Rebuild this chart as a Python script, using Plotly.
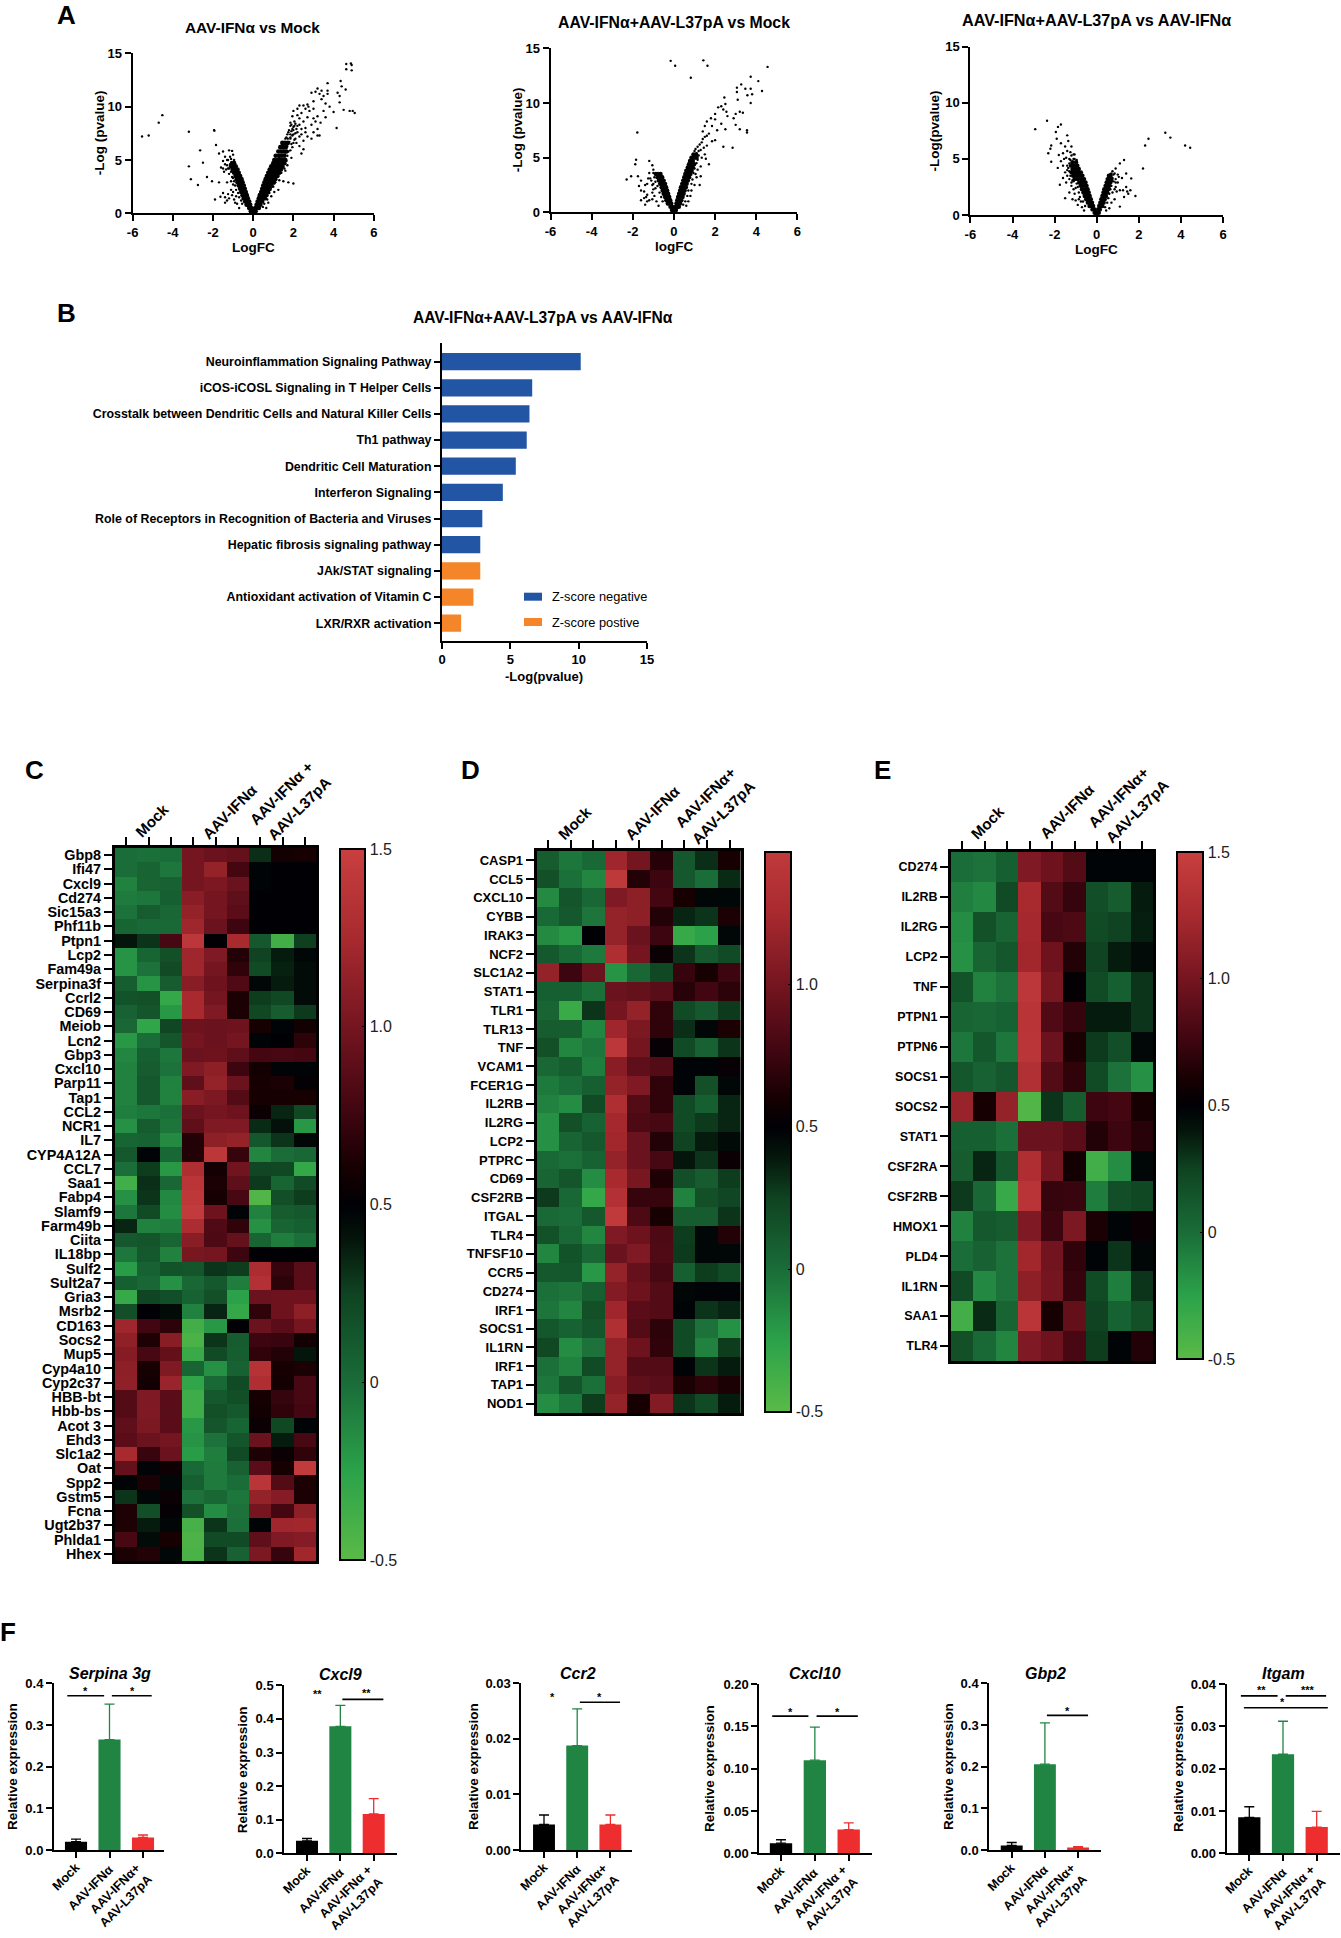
import plotly.graph_objects as go

W, H = 1341, 1938
FONT = "Liberation Sans"

# ---- A: volcano plots (logFC, -log p)
a1_core = [(.05,.2),(.12,.2),(.1,.5),(.2,.5),(.28,.5),(.17,.8),(.27,.8),(.36,.8),(.22,1.1),(.32,1.1),(.44,1.1),
           (.28,1.4),(.38,1.4),(.5,1.4),(.58,1.4),(.33,1.7),(.44,1.7),(.55,1.7),(.66,1.7),(.4,2),(.5,2),(.62,2),(.74,2),
           (.45,2.3),(.56,2.3),(.68,2.3),(.82,2.3),(.5,2.6),(.62,2.6),(.75,2.6),(.9,2.6),(.56,2.9),(.68,2.9),(.8,2.9),(.94,2.9),(1.02,2.9),
           (.62,3.2),(.74,3.2),(.87,3.2),(1,3.2),(1.1,3.2),(.68,3.5),(.8,3.5),(.95,3.5),(1.08,3.5),(1.2,3.5),
           (.75,3.8),(.88,3.8),(1.02,3.8),(1.15,3.8),(1.3,3.8),(.82,4.1),(.95,4.1),(1.08,4.1),(1.22,4.1),(1.38,4.1),
           (.9,4.4),(1.02,4.4),(1.15,4.4),(1.3,4.4),(1.45,4.4),(1,4.7),(1.1,4.7),(1.25,4.7),(1.4,4.7),(1.55,4.7),
           (1.05,5),(1.2,5),(1.32,5),(1.45,5),(1.6,5),(1.12,5.4),(1.28,5.4),(1.42,5.4),(1.55,5.4),(1.25,5.8),(1.38,5.8),(1.5,5.8),(1.65,5.8),
           (1.35,6.2),(1.48,6.2),(1.62,6.2),(1.45,6.6),(1.58,6.6),(1.72,6.6),
           (-.05,.2),(-.12,.2),(-.1,.5),(-.2,.5),(-.15,.8),(-.25,.8),(-.33,.8),(-.2,1.1),(-.3,1.1),(-.4,1.1),(-.27,1.4),(-.37,1.4),(-.47,1.4),
           (-.32,1.7),(-.42,1.7),(-.53,1.7),(-.37,2),(-.47,2),(-.6,2),(-.42,2.3),(-.53,2.3),(-.65,2.3),(-.47,2.6),(-.6,2.6),(-.72,2.6),
           (-.53,2.9),(-.65,2.9),(-.78,2.9),(-.58,3.2),(-.7,3.2),(-.82,3.2),(-.65,3.5),(-.77,3.5),(-.88,3.5),(-.72,3.8),(-.82,3.8),(-.95,3.8),
           (-.78,4.1),(-.9,4.1),(-1.02,4.1),(-.87,4.4),(-.97,4.4),(-1.1,4.4),(-.95,4.7),(-1.05,4.7)]
a1_dots = [(4.63,14),(4.86,14.05),(4.63,13.5),(4.9,13.4),(4.9,13.9),(4.35,12.4),(3.7,12.2),(4.4,11.9),(4.2,11.3),(4.6,11.6),(4.3,11),
           (3.2,11.7),(3.4,11.5),(3.7,11.5),(3.7,11.2),(3.1,11.4),(3.3,11.2),(3.5,11),(2.9,11.3),(3,10.5),(3.4,10.7),(4.3,10.4),(3.6,10.3),
           (3.8,10),(4,9.5),(4.5,9.7),(4.8,9.6),(4.95,9.6),(5.05,9.4),(2.5,10.1),(2.7,10.2),(2.3,10.1),(2.2,9.8),(2.6,9.8),(2,9.6),(2.4,9.4),
           (2.8,9.6),(3,9.8),(3.2,9.1),(3.6,9),(3.35,8.5),(3,8.9),(3.1,8.6),(2.7,9),(2.3,8.9),(2.1,8.4),(2.5,8.6),(2.9,8.3),(3.2,7.9),(4.15,8),
           (3,7.6),(3.2,7.3),(3.3,7.3),(2.6,7.6),(2.4,7.9),(2.7,7.2),(2.9,7),(2.5,6.8),(2.3,7.2),(2.3,6.3),(2.5,6),(2.4,5.6),(2,6.6),(2.2,7.6),
           (2.1,7),(1.9,8.3),(1.85,7),(1.95,6.2),(1.75,5.8),(1.9,5.2),(1.7,4.5),(1.6,4),(1.4,3.8),(1.5,3),(1.75,2.9),(2,2.8),(1.3,3.1),(1.1,2.9),
           (1.25,2.2),(1.05,2),(.9,1.6),(.75,1),(.65,.5),(.95,2.5),(2.75,10),(3.5,9.6),(2.2,8.2),(2.4,7.4),(2.6,8),(2.15,6.6),(2,7.8),
           (1.6,7),(1.72,7),(1.85,7.1),(1.7,7.4),(1.85,7.4),(2,7.4),(1.78,7.8),(1.95,7.9),(1.85,8.2),(2.05,8.2),
           (1.3,5.2),(1.55,6.1),(1.7,6.3),(1.8,6.7),(1.9,6.5),(2.05,6.9),(1.65,7.1),(1.75,7.6),(1.95,7.3),(2.1,7.5),(2.15,7.9),(1.9,7.7),(2,8.1),
           (2.3,8.3),(1.85,8.5),(2.05,8.6),(2.2,9.2),(1.95,9.1),(1.6,5.7),(1.7,5.4),(1.85,5.9),(1.5,4.8),(1.6,5),(1.65,4.9),(1.45,4.3),(1.55,4.2),
           (1.35,4.6),(1.25,3.5),(1.2,3.9),(1.15,3.4),(1.3,4),(1,2.5),(1.05,2.8),(.85,2.2),(.8,1.9),(.7,1.3),(.55,.9),(.6,1.5),(.48,.6),
           (-5.53,7.2),(-5.2,7.3),(-4.7,8.5),(-4.52,9.2),(-3.2,7.65),(-1.95,7.8),(-1.93,7.75),(-2.64,5.9),(-1.85,6.4),(-3.2,4.4),(-3.1,3.2),
           (-2.75,2.65),(-2.5,4.75),(-2.3,3.4),(-2.05,3),(-1.9,1.3),(-1.7,2.9),(-1.63,1.55),(-1.7,5.6),(-1.5,5.8),(-1.4,5.3),(-1.2,5.9),
           (-1.05,5.85),(-1,5.5),(-1.3,5),(-1.5,4.9),(-1.15,4.6),(-1.5,4.2),(-1.6,4.3),(-1.35,4.1),(-1.25,4.2),(-1.1,5.1),(-1.45,3.9),(-1.2,3.7),
           (-1.05,3.4),(-1.1,3),(-1.3,2.9),(-1,2.7),(-1.5,1.9),(-1.4,1.5),(-1.3,1.2),(-1.4,1),(-1.25,1.8),(-1.1,2.2),(-1.05,1.7),(-1.2,1.4),
           (-.95,1.3),(-1,2),(-.9,1),(-.8,.9),(-.7,.5),(-.85,1.6),(-.55,.9),(-.6,1.2),(-.7,1.5),(-.75,1.9),(-.85,2.2),(-.9,2.6),(-.95,3),(-1,3.3),
           (-1.1,3.9),(-1.2,4.2),(-1.3,4.5),(-.95,5),(-1.15,5.3),(-1.25,5),(-1.4,4.6)]

a2_core = [(.03,.2),(.1,.2),(.08,.5),(.16,.5),(.24,.5),(.12,.8),(.2,.8),(.3,.8),(.16,1.1),(.25,1.1),(.36,1.1),(.2,1.4),(.3,1.4),(.42,1.4),
           (.25,1.7),(.35,1.7),(.47,1.7),(.3,2),(.4,2),(.52,2),(.34,2.3),(.45,2.3),(.58,2.3),(.4,2.6),(.5,2.6),(.62,2.6),(.45,2.9),(.56,2.9),(.68,2.9),
           (.5,3.2),(.62,3.2),(.74,3.2),(.55,3.5),(.67,3.5),(.8,3.5),(.6,3.8),(.72,3.8),(.86,3.8),(.67,4.1),(.78,4.1),(.92,4.1),(.73,4.4),(.85,4.4),(.98,4.4),
           (.78,4.7),(.92,4.7),(.85,5),(1,5),(1.1,5),(.95,5.3),(1.08,5.3),
           (-.04,.2),(-.1,.2),(-.08,.5),(-.17,.5),(-.13,.8),(-.22,.8),(-.3,.8),(-.18,1.1),(-.28,1.1),(-.37,1.1),(-.23,1.4),(-.33,1.4),(-.43,1.4),
           (-.28,1.7),(-.38,1.7),(-.5,1.7),(-.33,2),(-.43,2),(-.55,2),(-.38,2.3),(-.5,2.3),(-.6,2.3),(-.43,2.6),(-.55,2.6),(-.67,2.6),
           (-.5,2.9),(-.62,2.9),(-.73,2.9),(-.57,3.2),(-.68,3.2),(-.8,3.2),(-.65,3.5),(-.77,3.5),(-.88,3.5)]
a2_dots = [(-.16,13.85),(.06,13.4),(.82,12.3),(1.43,13.9),(1.63,13.4),(4.55,13.3),(3.73,12.4),(4.1,12),(3.27,11.7),(3.06,11.4),(3.06,11),
           (3.47,11.3),(3.73,11.3),(4.28,11.1),(3.57,10.7),(3.8,10.8),(3.1,10.3),(3.73,10),(2.45,10.5),(2.3,9.7),(2.5,9.9),(2.4,9.4),(2.15,9.6),
           (2.55,9.2),(3.2,9.2),(3.35,9.1),(3,9),(2.9,8.6),(2.6,8.8),(2,9),(2,8.5),(1.8,8.6),(1.6,8.3),(1.85,7.9),(2.3,8.1),(1.5,7.9),(1.4,7.4),
           (1.7,7.2),(2.1,7.5),(2.5,7.6),(3,8),(3.2,7.6),(3.55,7.5),(3.55,7.3),(1.85,6.5),(2,6.6),(2.4,6),(2.85,5.9),(1.6,6.1),(1.45,5.9),(1.25,6.2),
           (1.2,5.6),(1.5,5.3),(1.55,4.9),(1.7,4.4),(1.3,4.2),(1.15,3.9),(1.3,3.3),(1.1,3.2),(1.25,2.5),(1,2.5),(.85,2),(.8,1.5),(.7,1),(.6,.6),
           (1,5.6),(1.1,5.4),(1.2,5.2),(1.05,5.8),(1.15,6),(1.3,5.7),(1.35,6.4),(1.4,6.7),(1.5,6.9),(1.6,7),(1.35,5),(.9,3),(.95,3.6),(1,4),(1.1,4.5),
           (1.05,3.5),(1.15,4.8),(.85,2.6),(.7,2),(.65,1.5),(.55,1),(.45,.7),
           (-1.78,7.3),(-1.84,4.8),(-2.3,3),(-2.08,3.3),(-1.88,4.4),(-1.75,3.3),(-1.7,2.4),(-1.6,2),(-1.45,1.9),(-1.4,2.5),(-1.25,3.1),(-1.2,4.7),
           (-1.05,4.3),(-1,3.9),(-1.2,3.6),(-1.1,2.9),(-1.3,1.6),(-1.2,1.1),(-1.3,1),(-1.4,.7),(-1.05,1.2),(-1,2.1),(-.95,1.5),(-.85,1),(-.75,.6),
           (-1.05,1.8),(-1,2.6),(-1.6,2.9),(-.55,1),(-.62,1.4),(-.7,1.8),(-.8,2.4),(-.9,2.8),(-.95,3.2),(-1,3.6),(-1.15,3.1),(-1.05,2.5),(-.9,2.2),
           (-1.3,2.6),(-1.45,1.3),(-1.6,1.1),(-1.35,1.4)]

a3_core = [(-.04,.2),(-.1,.2),(-.1,.5),(-.2,.5),(-.17,.8),(-.27,.8),(-.34,.8),(-.22,1.1),(-.32,1.1),(-.42,1.1),(-.28,1.4),(-.38,1.4),(-.5,1.4),
           (-.33,1.7),(-.45,1.7),(-.57,1.7),(-.38,2),(-.5,2),(-.63,2),(-.43,2.3),(-.55,2.3),(-.7,2.3),(-.48,2.6),(-.62,2.6),(-.76,2.6),(-.53,2.9),(-.68,2.9),(-.83,2.9),
           (-.6,3.2),(-.74,3.2),(-.9,3.2),(-1.05,3.2),(-.68,3.5),(-.82,3.5),(-.98,3.5),(-1.12,3.5),(-.75,3.8),(-.9,3.8),(-1.05,3.8),(-1.2,3.8),
           (-.85,4.1),(-1,4.1),(-1.15,4.1),(-.92,4.4),(-1.08,4.4),(-1.22,4.4),(-.98,4.7),(-1.15,4.7),
           (.03,.2),(.1,.2),(.07,.5),(.15,.5),(.12,.8),(.2,.8),(.27,.8),(.17,1.1),(.25,1.1),(.33,1.1),(.22,1.4),(.3,1.4),(.38,1.4),(.27,1.7),(.35,1.7),(.44,1.7),
           (.32,2),(.4,2),(.5,2),(.36,2.3),(.45,2.3),(.55,2.3),(.42,2.6),(.5,2.6),(.6,2.6),(.47,2.9),(.55,2.9),(.65,2.9),(.52,3.2),(.6,3.2),(.7,3.2),(.58,3.5),(.66,3.5)]
a3_dots = [(-2.92,7.65),(-2.36,8.4),(-1.7,8.07),(-1.84,7.85),(-1.94,7.4),(-1.9,6.8),(-1.4,7.1),(-2.16,6.2),(-2.2,5.9),(-2.3,5.5),(-2.16,4.75),(-1.7,6.4),
           (-1.5,6.1),(-1.2,6.1),(-1.8,5.35),(-1.6,5.5),(-1.35,6.6),(-1.25,5.6),(-1.4,5.7),(-1.1,5.4),(-1.55,5),(-1.7,4.8),(-1.45,5.1),(-1.6,4.4),(-1.4,4.4),
           (-1.85,4.2),(-1.3,5),(-1.05,5),(-.95,4.9),(-1.5,3.8),(-1.4,3.5),(-1.3,3.2),(-1.6,3.3),(-1.75,2.7),(-1.45,2.9),(-1.2,2.6),(-1.1,2.3),(-1.05,1.9),
           (-1.3,2),(-1.5,1.5),(-1.15,1.4),(-1,1.3),(-.9,.9),(-.85,1.4),(-.7,.7),(-.6,.4),(-1.1,3),
           (-1.3,4.6),(-1.25,4.9),(-1.35,4.2),(-1.05,5.4),(-1.1,5),(-1.2,5.3),(-1.3,3.9),(-1.25,3.5),(-1.15,3.1),(-.95,2.8),(-1,2.4),(-.85,2),(-.8,1.6),
           (-.65,1.2),(-.55,.8),(-.75,1.2),(-.9,2.5),(-1.2,2.9),(-1.4,4),
           (3.26,7.33),(3.5,6.9),(2.46,6.8),(2.3,6.2),(4.2,6.2),(4.44,6),(2.2,4.15),(1.3,4.9),(1.1,4.6),(.9,4.15),(1.4,3.7),(1.64,3.26),(1.4,2.5),(1.6,2.2),
           (1.84,1.7),(1.3,1.6),(1.1,.75),(1,3.6),(.85,3.7),(.75,3.9),(1.2,3.3),(1,2.9),(1.45,2.1),(1.25,2.2),(1.5,1.9),(.9,2.9),(1.1,2.2),(.95,2.1),(.75,2),
           (.85,1.4),(.7,1.1),(.6,.6),(.45,.4),(.9,3.2),(.75,3.3),(.7,3),(.7,2.6),(.65,2.3),(.6,1.9),(.55,1.5),(.5,1.1),(.4,.7),(.8,3),(.9,2.5),(1.05,3.4),
           (.8,3.6),(.7,3.7),(.65,3.65),(.85,2.3)]

# ---- B: enriched pathways
pathways = ["Neuroinflammation Signaling Pathway", "iCOS-iCOSL Signaling in T Helper Cells",
            "Crosstalk between Dendritic Cells and Natural Killer Cells", "Th1 pathway", "Dendritic Cell Maturation",
            "Interferon Signaling", "Role of Receptors in Recognition of Bacteria and Viruses",
            "Hepatic fibrosis signaling pathway", "JAk/STAT signaling", "Antioxidant activation of Vitamin C",
            "LXR/RXR activation"]
pathway_values = [10.15, 6.6, 6.4, 6.2, 5.4, 4.45, 2.95, 2.8, 2.8, 2.3, 1.4]
pathway_zscore = ["neg", "neg", "neg", "neg", "neg", "neg", "neg", "neg", "pos", "pos", "pos"]

# ---- C, D, E: heatmaps, columns = 3 mock, 3 AAV-IFNa, 3 AAV-IFNa + AAV-L37pA
c_genes = ["Gbp8", "Ifi47", "Cxcl9", "Cd274", "Sic15a3", "Phf11b", "Ptpn1", "Lcp2", "Fam49a", "Serpina3f", "Ccrl2", "CD69",
           "Meiob", "Lcn2", "Gbp3", "Cxcl10", "Parp11", "Tap1", "CCL2", "NCR1", "IL7", "CYP4A12A", "CCL7", "Saa1", "Fabp4",
           "Slamf9", "Farm49b", "Ciita", "IL18bp", "Sulf2", "Sult2a7", "Gria3", "Msrb2", "CD163", "Socs2", "Mup5", "Cyp4a10",
           "Cyp2c37", "HBB-bt", "Hbb-bs", "Acot 3", "Ehd3", "Slc1a2", "Oat", "Spp2", "Gstm5", "Fcna", "Ugt2b37", "Phlda1", "Hhex"]
c_values = [
    [0.0, -0.02, 0.0, 1.0, 0.95, 0.93, 0.32, 0.58, 0.6],
    [0.0, 0.05, -0.05, 1.0, 1.15, 0.78, 0.48, 0.5, 0.5],
    [-0.1, 0.05, 0.07, 1.0, 1.03, 0.95, 0.48, 0.5, 0.5],
    [-0.07, -0.05, 0.08, 1.1, 1.0, 0.9, 0.5, 0.5, 0.5],
    [-0.03, 0.1, 0.03, 1.15, 1.0, 0.88, 0.5, 0.5, 0.5],
    [0.04, 0.02, 0.02, 1.2, 0.95, 0.75, 0.5, 0.5, 0.5],
    [0.4, 0.3, 0.8, 1.4, 0.5, 1.25, 0.12, -0.38, 0.26],
    [-0.18, 0.04, 0.17, 1.2, 1.05, 0.65, 0.25, 0.38, 0.47],
    [-0.18, -0.03, 0.21, 1.2, 1.0, 0.7, 0.2, 0.36, 0.45],
    [0.09, -0.18, 0.1, 1.1, 0.97, 0.83, 0.47, 0.38, 0.45],
    [0.15, 0.17, -0.3, 1.25, 1.0, 0.62, 0.27, 0.22, 0.45],
    [0.07, 0.14, -0.2, 1.25, 1.05, 0.62, 0.22, 0.1, 0.28],
    [0.03, -0.28, 0.23, 0.97, 0.95, 0.97, 0.6, 0.48, 0.58],
    [-0.2, 0.0, 0.14, 1.0, 0.95, 1.0, 0.48, 0.5, 0.68],
    [-0.12, 0.08, -0.05, 0.95, 0.97, 0.9, 0.78, 0.8, 0.78],
    [-0.1, 0.1, -0.03, 1.05, 1.12, 0.75, 0.58, 0.48, 0.48],
    [-0.1, 0.12, -0.1, 0.9, 1.15, 0.95, 0.6, 0.62, 0.52],
    [-0.1, 0.12, -0.1, 1.1, 1.03, 0.85, 0.6, 0.6, 0.6],
    [-0.08, -0.05, -0.02, 0.95, 1.0, 0.97, 0.55, 0.35, 0.22],
    [-0.17, 0.1, -0.04, 0.9, 1.05, 1.05, 0.33, 0.42, -0.2],
    [0.04, 0.06, -0.14, 0.65, 1.12, 1.15, 0.13, 0.3, 0.47],
    [0.12, 0.48, 0.03, 0.65, 1.4, 0.72, -0.12, 0.0, 0.03],
    [-0.01, 0.27, -0.2, 1.3, 0.58, 0.98, 0.23, 0.22, -0.3],
    [-0.37, 0.32, 0.03, 1.38, 0.62, 0.9, 0.28, 0.04, 0.2],
    [-0.17, 0.3, -0.13, 1.42, 0.6, 0.8, -0.45, 0.18, 0.27],
    [-0.05, 0.2, -0.15, 1.45, 0.97, 0.48, -0.1, 0.1, 0.12],
    [0.35, -0.1, -0.08, 1.28, 0.83, 0.7, -0.17, 0.05, 0.08],
    [0.12, 0.14, 0.05, 1.1, 0.82, 0.93, 0.05, -0.08, -0.02],
    [-0.05, 0.12, -0.1, 1.02, 1.0, 0.75, 0.5, 0.5, 0.5],
    [-0.22, 0.07, 0.15, 0.14, 0.3, 0.27, 1.28, 0.72, 0.87],
    [0.08, 0.03, -0.17, 0.03, 0.12, -0.08, 1.33, 0.68, 0.88],
    [-0.32, 0.24, 0.18, 0.06, 0.17, -0.25, 0.95, 0.97, 0.97],
    [0.18, 0.5, 0.45, -0.1, 0.35, -0.3, 0.7, 0.97, 1.12],
    [1.2, 0.77, 0.68, -0.38, -0.2, 0.5, 0.95, 0.88, 1.0],
    [1.13, 0.63, 1.1, -0.42, 0.3, 0.1, 0.75, 0.73, 0.58],
    [1.08, 0.8, 0.92, -0.33, 0.2, 0.09, 0.7, 0.65, 0.4],
    [1.12, 0.6, 1.05, 0.05, -0.17, 0.07, 1.35, 0.6, 0.62],
    [1.13, 0.58, 1.18, -0.28, 0.02, 0.2, 1.3, 0.58, 0.8],
    [0.85, 1.05, 0.88, -0.35, 0.12, 0.18, 0.6, 0.72, 0.8],
    [0.85, 1.05, 0.87, -0.35, 0.17, 0.12, 0.58, 0.7, 0.78],
    [0.9, 1.03, 0.88, -0.2, 0.14, 0.04, 0.55, 0.22, 0.48],
    [0.88, 0.95, 1.0, -0.18, -0.03, 0.14, 0.95, 0.38, 0.8],
    [1.25, 0.73, 0.95, -0.22, -0.08, 0.2, 0.63, 0.55, 0.7],
    [0.93, 0.48, 0.57, 0.02, -0.07, 0.07, 0.88, 0.6, 1.45],
    [0.48, 0.62, 0.47, 0.08, -0.07, 0.0, 1.38, 0.85, 0.62],
    [0.3, 0.47, 0.55, -0.03, 0.03, -0.05, 1.15, 1.08, 0.62],
    [0.63, 0.18, 0.52, 0.17, -0.15, -0.03, 1.0, 0.78, 1.12],
    [0.63, 0.38, 0.47, -0.4, 0.3, -0.02, 0.48, 1.2, 1.22],
    [0.8, 0.45, 0.6, -0.43, 0.2, 0.2, 0.9, 1.05, 1.08],
    [0.62, 0.65, 0.47, -0.42, 0.3, 0.07, 1.03, 0.72, 1.22],
]

d_genes = ["CASP1", "CCL5", "CXCL10", "CYBB", "IRAK3", "NCF2", "SLC1A2", "STAT1", "TLR1", "TLR13", "TNF", "VCAM1", "FCER1G",
           "IL2RB", "IL2RG", "LCP2", "PTPRC", "CD69", "CSF2RB", "ITGAL", "TLR4", "TNFSF10", "CCR5", "CD274", "IRF1", "SOCS1",
           "IL1RN", "IRF1", "TAP1", "NOD1"]
d_values = [
    [0.1, -0.05, 0.02, 1.2, 1.0, 0.66, 0.12, 0.32, 0.6],
    [0.17, -0.02, -0.12, 1.45, 0.65, 0.75, 0.12, 0.0, 0.33],
    [-0.14, 0.14, 0.03, 1.05, 1.12, 0.78, 0.6, 0.47, 0.47],
    [0.02, 0.12, -0.04, 1.15, 1.12, 0.65, 0.35, 0.3, 0.62],
    [-0.14, -0.2, 0.5, 1.15, 0.95, 0.75, -0.32, -0.25, 0.47],
    [0.12, 0.02, -0.06, 1.3, 1.0, 0.55, 0.3, 0.12, 0.2],
    [1.15, 0.75, 0.95, -0.18, 0.03, 0.22, 0.72, 0.6, 0.75],
    [0.08, 0.08, -0.02, 0.95, 0.93, 0.87, 0.67, 0.77, 0.68],
    [0.05, -0.33, 0.3, 1.0, 1.15, 0.7, 0.2, 0.12, 0.28],
    [0.1, 0.09, -0.12, 1.2, 1.03, 0.7, 0.32, 0.47, 0.62],
    [0.17, -0.12, -0.05, 1.42, 1.0, 0.53, 0.2, 0.07, 0.3],
    [0.03, 0.09, -0.08, 1.1, 0.9, 0.85, 0.48, 0.48, 0.53],
    [-0.06, 0.0, 0.08, 1.15, 1.05, 0.7, 0.48, 0.17, 0.47],
    [-0.1, -0.15, 0.2, 1.3, 0.85, 0.7, 0.2, 0.08, 0.35],
    [-0.17, 0.17, 0.06, 1.23, 0.82, 0.8, 0.2, 0.28, 0.35],
    [-0.17, 0.05, 0.12, 1.22, 0.95, 0.65, 0.25, 0.38, 0.45],
    [0.02, -0.02, 0.06, 1.15, 0.95, 0.8, 0.4, 0.3, 0.55],
    [0.05, 0.14, -0.15, 1.25, 1.02, 0.63, 0.18, 0.1, 0.27],
    [0.28, 0.03, -0.3, 1.35, 0.72, 0.72, -0.1, 0.17, 0.23],
    [0.02, 0.0, 0.12, 1.47, 0.82, 0.6, 0.1, 0.1, 0.3],
    [0.16, 0.03, -0.12, 1.05, 0.97, 0.82, 0.27, 0.47, 0.65],
    [-0.12, 0.15, 0.03, 0.95, 1.05, 0.83, 0.28, 0.47, 0.47],
    [0.12, 0.13, -0.2, 1.15, 0.93, 0.8, 0.08, 0.27, 0.2],
    [-0.02, -0.04, 0.08, 1.07, 0.97, 0.85, 0.47, 0.48, 0.48],
    [-0.04, -0.12, 0.17, 1.2, 0.88, 0.85, 0.48, 0.3, 0.35],
    [0.13, 0.06, 0.14, 1.32, 0.85, 0.68, 0.2, -0.03, -0.17],
    [0.22, -0.15, -0.03, 1.15, 0.97, 0.7, 0.2, -0.1, 0.27],
    [-0.02, -0.1, 0.2, 1.15, 0.85, 0.85, 0.48, 0.3, 0.38],
    [-0.05, 0.14, -0.02, 1.1, 0.9, 0.87, 0.62, 0.68, 0.62],
    [-0.15, -0.05, 0.27, 1.15, 0.6, 1.07, 0.3, 0.2, 0.38],
]

e_genes = ["CD274", "IL2RB", "IL2RG", "LCP2", "TNF", "PTPN1", "PTPN6", "SOCS1", "SOCS2", "STAT1", "CSF2RA", "CSF2RB", "HMOX1",
           "PLD4", "IL1RN", "SAA1", "TLR4"]
e_values = [
    [0.0, -0.03, 0.08, 1.05, 0.97, 0.85, 0.48, 0.48, 0.48],
    [-0.09, -0.13, 0.2, 1.25, 0.85, 0.72, 0.18, 0.1, 0.38],
    [-0.15, 0.16, 0.05, 1.23, 0.8, 0.82, 0.2, 0.25, 0.37],
    [-0.17, 0.05, 0.13, 1.22, 0.97, 0.65, 0.25, 0.38, 0.45],
    [0.15, -0.1, -0.03, 1.4, 1.02, 0.52, 0.2, 0.08, 0.3],
    [0.05, 0.03, 0.06, 1.37, 0.83, 0.72, 0.38, 0.38, 0.3],
    [-0.05, 0.13, -0.05, 1.38, 0.95, 0.62, 0.28, 0.18, 0.46],
    [0.13, 0.07, 0.13, 1.32, 0.85, 0.7, 0.2, -0.03, -0.17],
    [1.17, 0.6, 1.15, -0.45, 0.3, 0.1, 0.75, 0.78, 0.6],
    [0.08, 0.08, -0.02, 0.95, 0.95, 0.88, 0.65, 0.75, 0.67],
    [0.1, 0.35, 0.13, 1.3, 1.0, 0.58, -0.37, -0.15, 0.47],
    [0.28, 0.03, -0.32, 1.37, 0.72, 0.73, -0.08, 0.18, 0.22],
    [-0.1, 0.12, 0.1, 1.05, 0.75, 1.03, 0.62, 0.48, 0.55],
    [0.0, 0.07, -0.03, 1.22, 0.98, 0.7, 0.48, 0.3, 0.47],
    [0.2, -0.13, -0.03, 1.12, 1.0, 0.72, 0.2, -0.08, 0.3],
    [-0.38, 0.33, 0.05, 1.38, 0.6, 0.92, 0.25, 0.06, 0.17],
    [0.17, 0.02, -0.12, 1.05, 0.97, 0.8, 0.27, 0.48, 0.65],
]

# ---- F: qPCR bars
serpina_means, serpina_tops = [0.02, 0.265, 0.03], [0.026, 0.35, 0.036]
cxcl9_means, cxcl9_tops = [0.037, 0.378, 0.117], [0.044, 0.44, 0.163]
ccr2_means, ccr2_tops = [0.0046, 0.0188, 0.0046], [0.0063, 0.0254, 0.0063]
cxcl10_means, cxcl10_tops = [0.012, 0.11, 0.028], [0.016, 0.149, 0.036]
gbp2_means, gbp2_tops = [0.011, 0.206, 0.006], [0.018, 0.305, 0.008]
itgam_means, itgam_tops = [0.0085, 0.0234, 0.0062], [0.011, 0.0312, 0.0099]

# ---- styles and layout
BLUE, ORANGE = "#2255A4", "#F58529"
BAR_COLORS = ["#000000", "#208543", "#EE2E2E"]
heat_stops = [(-0.5, "#5ABA47"), (-0.25, "#2BA24A"), (0.0, "#1A6C38"), (0.25, "#0F4321"), (0.4, "#04150B"), (0.5, "#000005"),
              (0.6, "#160002"), (0.75, "#3D0510"), (1.0, "#751520"), (1.25, "#A82A2F"), (1.5, "#C93F3F")]


def fx(p):
    return p / W


def fy(p):
    return 1 - p / H


fig = go.Figure()
annotations, shapes = [], []
axis_no = 0


def text(s, x, y, size=13, bold=True, angle=0, xanchor="center", xref="paper", yref="paper", italic=False, xshift=0, yshift=0):
    if xref == "paper":
        x = fx(x)
    if yref == "paper":
        y = fy(y)
    annotations.append(dict(text=s, x=x, y=y, xref=xref, yref=yref, showarrow=False, textangle=angle,
                            xanchor=xanchor, yanchor="middle", xshift=xshift, yshift=yshift,
                            font=dict(family=FONT, size=size, color="#000", weight="bold" if bold else "normal",
                                      style="italic" if italic else "normal")))


def new_axes(left, right, top, bottom, xopts, yopts):
    global axis_no
    axis_no += 1
    suf = "" if axis_no == 1 else str(axis_no)
    fig.layout["xaxis" + suf] = dict(domain=[fx(left), fx(right)], anchor="y" + suf, **xopts)
    fig.layout["yaxis" + suf] = dict(domain=[fy(bottom), fy(top)], anchor="x" + suf, **yopts)
    return "x" + suf, "y" + suf


def line_axis(size=13, **kw):
    return dict(showline=True, linecolor="#000", linewidth=2, ticks="outside", tickcolor="#000", tickwidth=2, ticklen=6,
                showgrid=False, zeroline=False,
                tickfont=dict(family=FONT, size=size, color="#000", weight="bold"), **kw)


# volcano panels
fc_ticks = [-6, -4, -2, 0, 2, 4, 6]
volcanoes = [
    dict(core=a1_core, dots=a1_dots, box=(132.6, 373.8, 53.3, 213.3), core_size=4.6, title="AAV-IFNα vs Mock", tx=252.5, ty=27,
         tsize=15.4, xlab="LogFC", ylab="-Log (pvalue)", ylx=99),
    dict(core=a2_core, dots=a2_dots, box=(550.5, 797.4, 48.3, 212.3), core_size=4.4, title="AAV-IFNα+AAV-L37pA vs Mock", tx=674, ty=22.7,
         tsize=15.8, xlab="logFC", ylab="-Log (pvalue)", ylx=517),
    dict(core=a3_core, dots=a3_dots, box=(970.4, 1223, 46.7, 215), core_size=4.4, title="AAV-IFNα+AAV-L37pA vs AAV-IFNα", tx=1096, ty=20,
         tsize=16.2, xlab="LogFC", ylab="-Log(pvalue)", ylx=934.6),
]
for v in volcanoes:
    left, right, top, bottom = v["box"]
    xa, ya = new_axes(left, right, top, bottom,
                      line_axis(range=[-6, 6], tickvals=fc_ticks, ticktext=[str(t) for t in fc_ticks]),
                      line_axis(range=[0, 15], tickvals=[0, 5, 10, 15]))
    for pts, size in ((v["core"], v["core_size"]), (v["dots"], 2.4)):
        fig.add_trace(go.Scatter(x=[p[0] for p in pts], y=[p[1] for p in pts], mode="markers", xaxis=xa, yaxis=ya,
                                 marker=dict(size=size, color="#000", line=dict(width=0)), showlegend=False))
    text(v["title"], v["tx"], v["ty"], size=v["tsize"])
    text(v["xlab"], (left + right) / 2, bottom + 34, size=13.5)
    text(v["ylab"], v["ylx"], (top + bottom) / 2, size=13.5, angle=-90)

# pathway bars
xa, ya = new_axes(442, 647, 343.3, 640.7,
                  line_axis(range=[0, 15], tickvals=[0, 5, 10, 15]),
                  line_axis(size=12.4, range=[10.67, -0.7], tickvals=list(range(len(pathways))), ticktext=pathways))
fig.add_trace(go.Bar(x=pathway_values, y=list(range(len(pathways))), orientation="h", width=0.66, xaxis=xa, yaxis=ya,
                     marker=dict(color=[BLUE if z == "neg" else ORANGE for z in pathway_zscore], line=dict(width=0)), showlegend=False))
text("AAV-IFNα+AAV-L37pA vs AAV-IFNα", 543, 317, size=15.6)
text("-Log(pvalue)", 544, 677, size=13)
for color, label, ly in ((BLUE, "Z-score negative", 596.7), (ORANGE, "Z-score postive", 622)):
    shapes.append(dict(type="rect", xref="paper", yref="paper", x0=fx(524), x1=fx(542), y0=fy(ly + 4), y1=fy(ly - 4),
                       fillcolor=color, line=dict(width=0)))
    text(label, 550, ly, size=12.8, bold=False, xanchor="left")

# heatmaps
zmin = -0.5
heatmaps = [
    dict(genes=c_genes, z=c_values, box=(115, 316, 848, 1561), bar=(340, 365, 849, 1560), zmax=1.5, size=14.4,
         ticks=[1.5, 1.0, 0.5, 0, -0.5], ticktext=["1.5", "1.0", "0.5", "0", "-0.5"],
         labels=[("Mock", 151.7, 820), ("AAV-IFNα", 230, 811.7), ("AAV-IFNα +", 280.7, 793), ("AAV-L37pA", 299, 808)]),
    dict(genes=d_genes, z=d_values, box=(536.7, 741, 851, 1413), bar=(765, 790.7, 851.7, 1411.7), zmax=1.464, size=13,
         ticks=[1.0, 0.5, 0, -0.5], ticktext=["1.0", "0.5", "0", "-0.5"],
         labels=[("Mock", 574, 823), ("AAV-IFNα", 653, 813), ("AAV-IFNα+", 705, 797), ("AAV-L37pA", 723, 812)]),
    dict(genes=e_genes, z=e_values, box=(951, 1153.3, 852, 1361), bar=(1177, 1203, 852, 1359), zmax=1.5, size=12.5,
         ticks=[1.5, 1.0, 0.5, 0, -0.5], ticktext=["1.5", "1.0", "0.5", "0", "-0.5"],
         labels=[("Mock", 987.7, 822.6), ("AAV-IFNα", 1066.7, 811), ("AAV-IFNα+", 1118, 797), ("AAV-L37pA", 1136.7, 811)]),
]
for h in heatmaps:
    left, right, top, bottom = h["box"]
    n = len(h["genes"])
    frame = dict(showline=True, linecolor="#000", linewidth=3, mirror=True, ticks="outside", tickcolor="#000", tickwidth=2,
                 ticklen=8, showgrid=False, zeroline=False)
    xa, ya = new_axes(left, right, top, bottom,
                      dict(range=[-0.5, 8.5], side="top", tickvals=list(range(9)), showticklabels=False, **frame),
                      dict(range=[n - 0.5, -0.5], tickvals=list(range(n)), ticktext=h["genes"],
                           tickfont=dict(family=FONT, size=h["size"], color="#000", weight="bold"), **frame))
    scale = [[(z - zmin) / (h["zmax"] - zmin), c] for z, c in heat_stops if z <= h["zmax"]]
    if h["zmax"] < 1.5:
        scale.append([1, "#C03A3B"])
    bx0, bx1, by0, by1 = h["bar"]
    fig.add_trace(go.Heatmap(z=h["z"], x=list(range(9)), y=list(range(n)), xaxis=xa, yaxis=ya, colorscale=scale, zmin=zmin, zmax=h["zmax"],
                             colorbar=dict(x=fx(bx0), xanchor="left", y=fy(by0), yanchor="top", xpad=0, ypad=0,
                                           len=by1 - by0, lenmode="pixels", thickness=bx1 - bx0, thicknessmode="pixels",
                                           outlinewidth=2, outlinecolor="#000", tickvals=h["ticks"], ticktext=h["ticktext"],
                                           ticks="inside", ticklen=4, tickcolor="#000",
                                           tickfont=dict(family=FONT, size=16, color="#222"))))
    for label, lx, ly in h["labels"]:
        text(label, lx, ly, size=15.2, angle=-45)

# qPCR panels
panels = [
    dict(name="Serpina 3g", means=serpina_means, tops=serpina_tops, box=(54, 164.3, 1683.3, 1850), first=76, step=33.5, ymax=0.4,
         ticks=[0, .1, .2, .3, .4], fmt=".1f", ylx=12.3, tx=110, ty=1673, combo="AAV-IFNα+",
         sig=[(-.26, .84, .37), (1.07, 2.26, .37)], stars=[("*", .27, .382), ("*", 1.68, .382)]),
    dict(name="Cxcl9", means=cxcl9_means, tops=cxcl9_tops, box=(284.3, 396.7, 1685.3, 1853.3), first=307, step=33.35, ymax=0.5,
         ticks=[0, .1, .2, .3, .4, .5], fmt=".1f", ylx=242, tx=340, ty=1674, combo="AAV-IFNα +",
         sig=[(1.06, 2.29, .458)], stars=[("**", .31, .474), ("**", 1.79, .476)]),
    dict(name="Ccr2", means=ccr2_means, tops=ccr2_tops, box=(521.3, 632.3, 1683.3, 1850), first=544, step=33.2, ymax=0.03,
         ticks=[0, .01, .02, .03], fmt=".2f", ylx=473.3, tx=578.3, ty=1673, combo="AAV-IFNα+",
         sig=[(1.08, 2.29, .0266)], stars=[("*", .26, .0276), ("*", 1.68, .0275)]),
    dict(name="Cxcl10", means=cxcl10_means, tops=cxcl10_tops, box=(759.3, 871.7, 1684, 1853.3), first=781, step=33.85, ymax=0.2,
         ticks=[0, .05, .1, .15, .2], fmt=".2f", ylx=709.3, tx=815, ty=1673, combo="AAV-IFNα +",
         sig=[(-.26, .81, .162), (1.05, 2.27, .162)], stars=[("*", .29, .167), ("*", 1.68, .167)]),
    dict(name="Gbp2", means=gbp2_means, tops=gbp2_tops, box=(989.3, 1100.7, 1683.3, 1850), first=1011.7, step=33.2, ymax=0.4,
         ticks=[0, .1, .2, .3, .4], fmt=".1f", ylx=948.3, tx=1045, ty=1673, combo="AAV-IFNα+",
         sig=[(1.06, 2.3, .323)], stars=[("*", 1.69, .333)]),
    dict(name="Itgam", means=itgam_means, tops=itgam_tops, box=(1226.7, 1340, 1684, 1853.3), first=1249.3, step=33.7, ymax=0.04,
         ticks=[0, .01, .02, .03, .04], fmt=".2f", ylx=1178.3, tx=1283.3, ty=1673, combo="AAV-IFNα +",
         sig=[(-.25, .84, .0372), (1.08, 2.28, .0372), (-.16, 2.33, .0344)],
         stars=[("**", .37, .0385), ("***", 1.74, .0385), ("*", .98, .0357)]),
]
for p in panels:
    left, right, top, bottom = p["box"]
    x0 = (left - p["first"]) / p["step"]
    x1 = (right - p["first"]) / p["step"]
    xa, ya = new_axes(left, right, top, bottom,
                      line_axis(range=[x0, x1], tickvals=[0, 1, 2], showticklabels=False),
                      line_axis(size=13, range=[0, p["ymax"]], tickvals=p["ticks"], tickformat=p["fmt"]))
    for i, color in enumerate(BAR_COLORS):
        fig.add_trace(go.Bar(x=[i], y=[p["means"][i]], width=0.66, xaxis=xa, yaxis=ya, marker=dict(color=color, line=dict(width=0)),
                             showlegend=False,
                             error_y=dict(type="data", symmetric=False, array=[p["tops"][i] - p["means"][i]], arrayminus=[0],
                                          color=color, thickness=1.3, width=5)))
    # group labels sit below their bars, rotated, and offset in pixels from each bar
    for label, i, dx, dy in (("Mock", 0, -10, 27), ("AAV-IFNα", 1, -19, 38), (p["combo"], 2, -28, 39), ("AAV-L37pA", 2, -17, 51)):
        text(label, i, 0, size=12.6, angle=-45, xref=xa, yref=ya, xshift=dx, yshift=-dy)
    text(p["name"], p["tx"], p["ty"], size=16, italic=True)
    text("Relative expression", p["ylx"], (top + bottom) / 2, size=13.5, angle=-90)
    for a, b, level in p["sig"]:
        shapes.append(dict(type="line", xref=xa, yref=ya, x0=a, x1=b, y0=level, y1=level, line=dict(color="#000", width=1.6)))
    for star, sx, sy in p["stars"]:
        text(star, sx, sy, size=11, xref=xa, yref=ya)

# panel letters
for letter, lx, ly in (("A", 66, 15), ("B", 66.5, 313), ("C", 34, 770), ("D", 470, 770), ("E", 882, 770), ("F", 8, 1632)):
    text(letter, lx, ly, size=26)

fig.update_layout(width=W, height=H, autosize=False, margin=dict(l=0, r=0, t=0, b=0, autoexpand=False), paper_bgcolor="#fff", plot_bgcolor="#fff",
                  showlegend=False, annotations=annotations, shapes=shapes, barmode="overlay")
fig.write_html("out.html", config={"displayModeBar": False}, post_script="document.body.style.margin='0';")
